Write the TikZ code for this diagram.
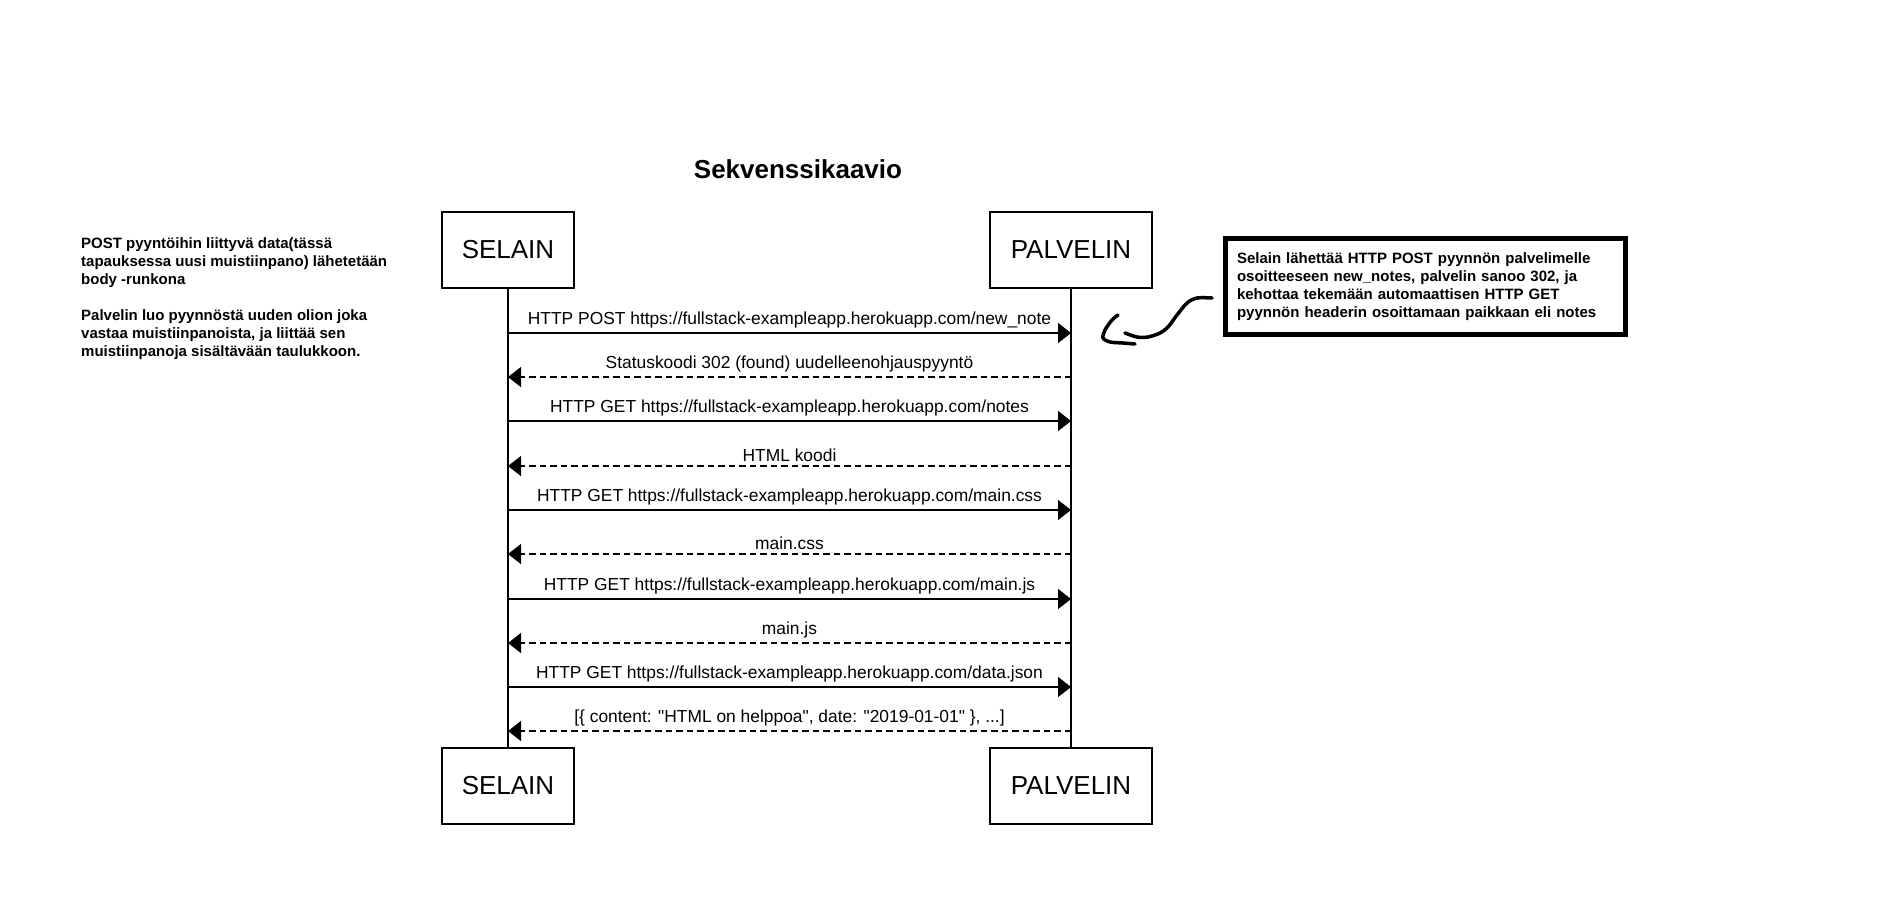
\documentclass[tikz,border=0pt]{standalone}
\usepackage{fontspec}
\setmainfont{Liberation Sans}
\usetikzlibrary{arrows.meta}

\begin{document}
\begin{tikzpicture}[x=1pt, y=-1pt,
    every node/.style={font=\fontsize{17.4}{20}\selectfont},
    actor/.style={draw, line width=1.3pt, minimum width=#1, minimum height=76pt, font=\fontsize{26}{30}\selectfont},
    msg/.style={line width=1.3pt, -{Triangle[length=13pt,width=20pt]}},
    reply/.style={msg, dash pattern=on 6.5pt off 4pt},
    lbl/.style={above=4pt, inner sep=0pt},
    note/.style={align=left, inner sep=0pt, font=\bfseries\fontsize{15}{18}\selectfont}]
    \useasboundingbox (0,0) rectangle (1903,922);

    % Title
    \node[font=\bfseries\fontsize{26}{30}\selectfont] (title) at (798,169) {Sekvenssikaavio};

    % Participants
    \node[actor=132pt] (selainTop) at (508,250) {SELAIN};
    \node[actor=162pt] (palvelinTop) at (1071,250) {PALVELIN};
    \node[actor=132pt] (selainBot) at (508,786) {SELAIN};
    \node[actor=162pt] (palvelinBot) at (1071,786) {PALVELIN};

    % Lifelines
    \draw[line width=1.3pt] (selainTop) -- (selainBot);
    \draw[line width=1.3pt] (palvelinTop) -- (palvelinBot);

    % Message points on the lifelines
    \foreach \y [count=\i] in {333,377,421,466,510,554,599,643,687,731} {
        \coordinate (s\i) at (508,\y);
        \coordinate (p\i) at (1071,\y);
    }

    % Messages
    \draw[msg] (s1) -- node[lbl] {HTTP POST https://fullstack-exampleapp.herokuapp.com/new\_note} (p1);
    \draw[reply] (p2) -- node[lbl] {Statuskoodi 302 (found) uudelleenohjauspyyntö} (s2);
    \draw[msg] (s3) -- node[lbl] {HTTP GET https://fullstack-exampleapp.herokuapp.com/notes} (p3);
    \draw[reply] (p4) -- node[lbl] {HTML koodi} (s4);
    \draw[msg] (s5) -- node[lbl] {HTTP GET https://fullstack-exampleapp.herokuapp.com/main.css} (p5);
    \draw[reply] (p6) -- node[lbl] {main.css} (s6);
    \draw[msg] (s7) -- node[lbl] {HTTP GET https://fullstack-exampleapp.herokuapp.com/main.js} (p7);
    \draw[reply] (p8) -- node[lbl] {main.js} (s8);
    \draw[msg] (s9) -- node[lbl] {HTTP GET https://fullstack-exampleapp.herokuapp.com/data.json} (p9);
    \draw[reply] (p10) -- node[lbl] {[\{ content: \textquotedbl HTML on helppoa\textquotedbl, date: \textquotedbl 2019-01-01\textquotedbl\ \}, ...]} (s10);

    % Left note
    \node[note, anchor=north west] (postNote) at (81,237) {POST pyyntöihin liittyvä data(tässä\\
        tapauksessa uusi muistiinpano) lähetetään\\
        body -runkona\\[18pt]
        Palvelin luo pyynnöstä uuden olion joka\\
        vastaa muistiinpanoista, ja liittää sen\\
        muistiinpanoja sisältävään taulukkoon.};

    % Right note
    \node[note, draw, line width=5pt, text width=377pt, inner xsep=11.5pt, minimum height=96.5pt] (redirectNote) at (1425.5,286.25) {Selain lähettää HTTP POST pyynnön palvelimelle\\
        osoitteeseen new\_notes, palvelin sanoo 302, ja\\
        kehottaa tekemään automaattisen HTTP GET\\
        pyynnön headerin osoittamaan paikkaan eli notes};

    % Hand drawn pointer
    \draw[line width=3.5pt, line cap=round, line join=round] plot[smooth] coordinates {(1212,298) (1197,298) (1187,303) (1177,315) (1168,327) (1160,333) (1148,337) (1137,337) (1125,333)};
    \draw[line width=3.5pt, line cap=round, line join=round] plot[smooth] coordinates {(1118,315) (1112,320) (1105,330) (1103,338) (1110,342) (1123,343) (1135,344)};
\end{tikzpicture}
\end{document}
